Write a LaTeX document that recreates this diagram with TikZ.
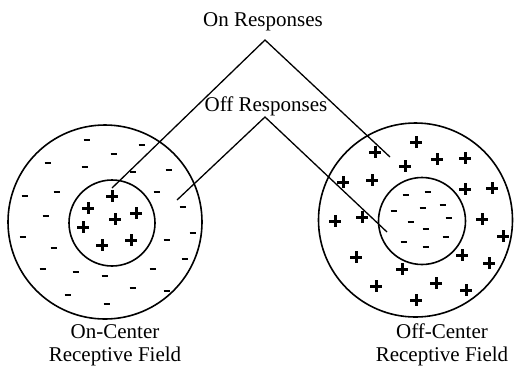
\documentclass[tikz,border=0pt]{standalone}
\usepackage{fontspec}
\setmainfont{Liberation Serif}
\begin{document}
\begin{tikzpicture}[x=1pt,y=-1pt,
  ring/.style={draw,circle,line width=1.6pt,inner sep=0pt},
  lab/.style={font=\fontsize{21}{23}\selectfont,align=center,inner sep=0pt},
  conn/.style={line width=1.3pt},
  msign/.pic={\draw[line width=2.4pt] (-3.3,0)--(3.3,0);},
  psign/.pic={\draw[line width=3pt] (-6,0)--(6,0) (0,-6)--(0,6);}]
\useasboundingbox (0,0) rectangle (516,368);
% circles
\node[ring,minimum size=194pt] (lout) at (105,222) {};
\node[ring,minimum size=86pt] (lin) at (112,223) {};
\node[ring,minimum size=194pt] (rout) at (415.5,220) {};
\node[ring,minimum size=87pt] (rin) at (422,221) {};
% labels
\node[lab] (on) at (263,22) {On Responses};
\node[lab] (off) at (266,106) {Off Responses};
\node[lab] (onc) at (115,345) {On-Center\\Receptive Field};
\node[lab] (offc) at (442,345) {Off-Center\\Receptive Field};
% connectors
\coordinate (onapex) at (265,40);
\coordinate (offapex) at (265,117);
\coordinate (onL) at (112,188);
\coordinate (onR) at (390,157);
\coordinate (offL) at (177,200);
\coordinate (offR) at (387,232);
\draw[conn] (onL) -- (onapex) -- (onR);
\draw[conn] (offL) -- (offapex) -- (offR);
% left surround minus signs
\foreach \p in {(87,140),(142,145),(114,154),(48,163),(85,167),(133,172),(169,170),
  (25,196),(57,192),(157,192),(183,207),(46,216),(193,233),(23,237),(54,248),
  (167,240),(185,259),(43,269),(76,272),(105,276),(153,269),(133,288),(68,295),
  (167,291),(107,304)}
  \pic at \p {msign};
% left center plus signs
\foreach \p in {(112,196),(88,208),(136,213),(115,219),(83,227),(102,245),(131,240)}
  \pic at \p {psign};
% right surround plus signs
\foreach \p in {(416,142),(375,152),(437,159),(465,158),(405,166),(343,182),(372,180),
  (465,189),(492,188),(335,221),(362,217),(482,219),(503,236),(356,257),(462,255),
  (489,263),(402,269),(376,286),(436,283),(466,290),(416,300)}
  \pic at \p {psign};
% right center minus signs
\foreach \p in {(406,195),(428,192),(394,211),(423,208),(443,205),(411,222),(449,218),
  (426,229),(404,242),(446,237),(426,247)}
  \pic at \p {msign};
\end{tikzpicture}
\end{document}
